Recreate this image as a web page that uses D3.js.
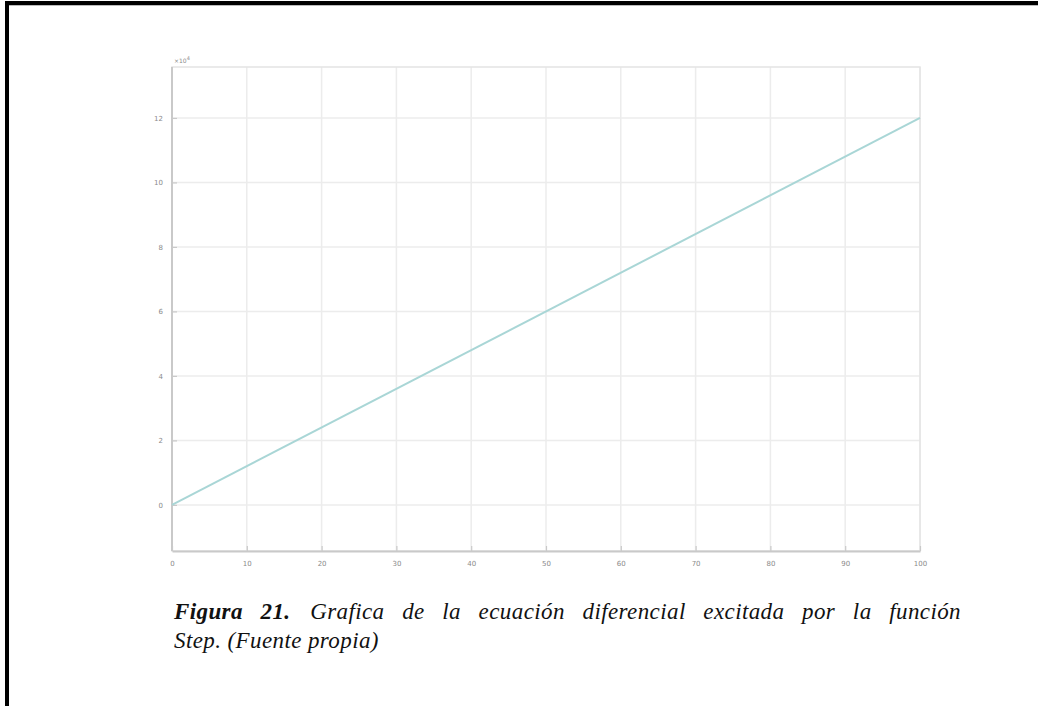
<!DOCTYPE html>
<html>
<head>
<meta charset="utf-8">
<script src="https://cdn.jsdelivr.net/npm/d3@7"></script>
<style>
  html, body { margin: 0; padding: 0; background: #fff; }
  body { width: 1038px; height: 706px; position: relative; overflow: hidden; }
  .caption {
    position: absolute; left: 174px; width: 787px;
    font-family: "Liberation Serif", "Times New Roman", serif;
    font-style: italic; font-size: 23px; line-height: 29px; letter-spacing: 0.4px;
    color: #111; white-space: nowrap;
  }
  .caption.l1 { top: 597px; text-align: justify; text-align-last: justify; }
  .caption.l2 { top: 626px; text-align: left; }
  .caption b { font-weight: bold; margin-right: 2px; }
</style>
</head>
<body>
<svg id="chart" width="1038" height="706"></svg>
<div class="caption l1"><b>Figura 21.</b> Grafica de la ecuación diferencial excitada por la función</div>
<div class="caption l2">Step. (Fuente propia)</div>
<script>
  // data
  var xValues = [0, 100];
  var yValues = [0, 12];
  var xTicks = [0, 10, 20, 30, 40, 50, 60, 70, 80, 90, 100];
  var yTicks = [0, 2, 4, 6, 8, 10, 12];

  var svg = d3.select('#chart');

  // page frame (left and top rule)
  svg.append('rect').attr('x', 5).attr('y', 1).attr('width', 1040).attr('height', 4).attr('fill', '#000');
  svg.append('rect').attr('x', 5).attr('y', 1).attr('width', 4).attr('height', 710).attr('fill', '#000');
  svg.append('line').attr('x1', 9).attr('x2', 1038).attr('y1', 5.5).attr('y2', 5.5).attr('stroke', '#bbb');

  var box = {left: 172, right: 920, top: 67, bottom: 551};

  var x = d3.scaleLinear().domain([0, 100]).range([box.left, box.right]);
  var y = d3.scaleLinear().domain([-1.43, 13.58]).range([box.bottom, box.top]);

  var g = svg.append('g');

  // grid
  g.selectAll('.gx').data(xTicks).enter().append('line')
    .attr('class', 'gx')
    .attr('x1', function(d) { return x(d); }).attr('x2', function(d) { return x(d); })
    .attr('y1', box.top).attr('y2', box.bottom)
    .attr('stroke', '#ececec').attr('stroke-width', 1.5);
  g.selectAll('.gy').data(yTicks).enter().append('line')
    .attr('class', 'gy')
    .attr('x1', box.left).attr('x2', box.right)
    .attr('y1', function(d) { return y(d); }).attr('y2', function(d) { return y(d); })
    .attr('stroke', '#ececec').attr('stroke-width', 1.5);

  // box
  g.append('rect')
    .attr('x', box.left).attr('y', box.top)
    .attr('width', box.right - box.left).attr('height', box.bottom - box.top)
    .attr('fill', 'none').attr('stroke', '#e4e4e4').attr('stroke-width', 1.5);

  // axes
  var xAxis = d3.axisBottom(x).tickValues(xTicks).tickSizeInner(-5).tickSizeOuter(0).tickPadding(10);
  var yAxis = d3.axisLeft(y).tickValues(yTicks).tickSizeInner(-5).tickSizeOuter(0).tickPadding(9);

  var gx = g.append('g').attr('transform', 'translate(0,' + box.bottom + ')').call(xAxis);
  var gy = g.append('g').attr('transform', 'translate(' + box.left + ',0)').call(yAxis);
  gy.select('.domain').attr('d', 'M0,' + box.top + 'V' + box.bottom);

  [gx, gy].forEach(function(a) {
    a.select('.domain').attr('stroke', '#c9c9c9').attr('stroke-width', 2);
    a.selectAll('.tick line').attr('stroke', '#c9c9c9').attr('stroke-width', 1.2);
    a.selectAll('.tick text')
      .attr('fill', '#8a8a8a')
      .style('font-family', 'DejaVu Sans, sans-serif')
      .style('font-size', '7px');
  });

  // exponent label
  var ex = g.append('text').attr('x', 174).attr('y', 63)
    .attr('fill', '#8a8a8a').style('font-family', 'DejaVu Sans, sans-serif').style('font-size', '6px');
  ex.append('tspan').text('×10');
  ex.append('tspan').attr('dy', -3).style('font-size', '5px').text('4');

  // series
  var line = d3.line()
    .x(function(d) { return x(d[0]); })
    .y(function(d) { return y(d[1]); });

  g.append('path')
    .datum(d3.zip(xValues, yValues))
    .attr('d', line)
    .attr('fill', 'none')
    .attr('stroke', '#a9d6d6')
    .attr('stroke-width', 2);
</script>
</body>
</html>
